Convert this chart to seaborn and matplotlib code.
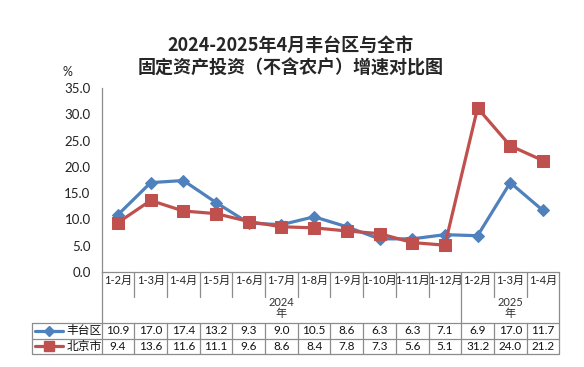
import matplotlib
matplotlib.use("Agg")
import matplotlib.pyplot as plt
import matplotlib.transforms as mtransforms
from matplotlib.lines import Line2D
import seaborn as sns
import pandas as pd

# chart data
months = ["1-2月", "1-3月", "1-4月", "1-5月", "1-6月", "1-7月", "1-8月", "1-9月",
          "1-10月", "1-11月", "1-12月", "1-2月", "1-3月", "1-4月"]
years = ["2024\n年", "2025\n年"]
year_spans = [(0, 10), (11, 13)]
fengtai = [10.9, 17.0, 17.4, 13.2, 9.3, 9.0, 10.5, 8.6, 6.3, 6.3, 7.1, 6.9, 17.0, 11.7]
beijing = [9.4, 13.6, 11.6, 11.1, 9.6, 8.6, 8.4, 7.8, 7.3, 5.6, 5.1, 31.2, 24.0, 21.2]
series_names = ["丰台区", "北京市"]
title = "2024-2025年4月丰台区与全市\n固定资产投资（不含农户）增速对比图"

blue = "#4F81BD"
red = "#C0504D"
grid_c = "#8C8C8C"

sns.set_theme(style="white")
plt.rcParams["font.family"] = ["Lato", "Noto Sans CJK SC", "DejaVu Sans"]

df = pd.DataFrame({"pos": range(len(months)), "fengtai": fengtai, "beijing": beijing})

fig = plt.figure(figsize=(5.84, 3.67), dpi=100)
ax = fig.add_axes([0.1741, 0.2589, 0.9577 - 0.1741, 0.7602 - 0.2589])

sns.lineplot(data=df, x="pos", y="fengtai", ax=ax, color=blue, lw=2.3,
             marker="D", markersize=6.5, markeredgecolor=blue, sort=False)
sns.lineplot(data=df, x="pos", y="beijing", ax=ax, color=red, lw=2.3,
             marker="s", markersize=8.5, markeredgecolor=red, sort=False)

n = len(months)
ax.set_xlim(-0.5, n - 0.5)
ax.set_ylim(0, 35)
ax.set_yticks(range(0, 36, 5))
ax.set_yticklabels([f"{v:.1f}" for v in range(0, 36, 5)], fontsize=9.5, color="#222222")
ax.set_xticks([])
ax.set_xlabel("")
ax.set_ylabel("")
ax.tick_params(axis="y", length=0, pad=8)
for s in ["top", "right"]:
    ax.spines[s].set_visible(False)
for s in ["left", "bottom"]:
    ax.spines[s].set_color(grid_c)
    ax.spines[s].set_linewidth(0.9)

ax.text(-0.075, 1.085, "%", transform=ax.transAxes, fontsize=9, ha="center", va="center")
fig.text(0.497, 0.845, title, ha="center", va="center", fontsize=13,
         fontweight="bold", family=["Noto Sans CJK SC"], linespacing=1.25)

# table below the axis
tr = mtransforms.blended_transform_factory(ax.transData, ax.transAxes)
y_lab, y_tab, y_r1, y_r2 = -0.136, -0.277, -0.364, -0.446
x_left = -2.63
kw = dict(transform=tr, color=grid_c, lw=0.9, clip_on=False)

for i in range(n + 1):
    xb = i - 0.5
    top = 0
    if i in (0, 11, n):
        ax.add_line(Line2D([xb, xb], [0, y_r2], **kw))
    else:
        ax.add_line(Line2D([xb, xb], [0, y_lab], **kw))
        ax.add_line(Line2D([xb, xb], [y_tab, y_r2], **kw))
ax.add_line(Line2D([x_left, x_left], [y_tab, y_r2], **kw))
for yy in (y_tab, y_r1, y_r2):
    ax.add_line(Line2D([x_left, n - 0.5], [yy, yy], **kw))

for i, m in enumerate(months):
    ax.text(i, -0.045, m, transform=tr, ha="center", va="center", fontsize=8, color="#222222")
for lab, (a, b) in zip(years, year_spans):
    ax.text((a + b) / 2, -0.196, lab, transform=tr, ha="center", va="center",
            fontsize=8, color="#333333", linespacing=1.1)

rows = [(fengtai, blue, "D", 5, (y_tab + y_r1) / 2),
        (beijing, red, "s", 6.5, (y_r1 + y_r2) / 2)]
for (vals, c, mk, ms, yc), name in zip(rows, series_names):
    for i, v in enumerate(vals):
        ax.text(i, yc, f"{v:.1f}", transform=tr, ha="center", va="center",
                fontsize=8.5, color="#111111")
    ax.add_line(Line2D([-2.54, -1.68], [yc, yc], transform=tr, color=c, lw=2.3,
                       clip_on=False))
    ax.add_line(Line2D([-2.11], [yc], transform=tr, color=c, marker=mk, markersize=ms,
                       markeredgecolor=c, clip_on=False))
    ax.text(-1.04, yc, name, transform=tr, ha="center", va="center", fontsize=8.5,
            color="#111111")

fig.savefig("out.png", dpi=100)
